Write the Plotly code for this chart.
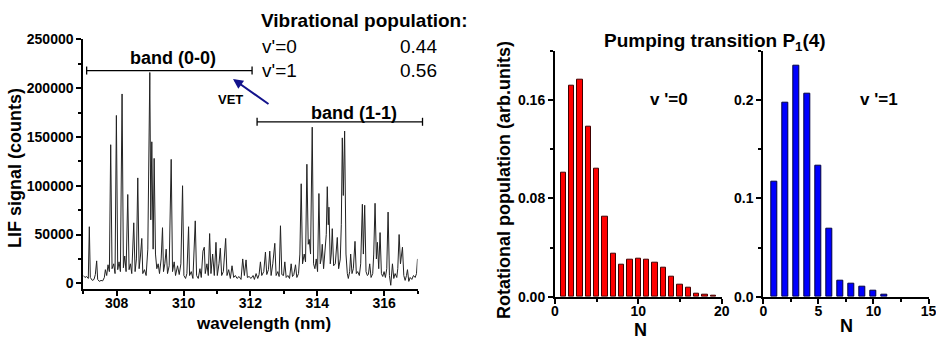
import plotly.graph_objects as go

# ---------------- data ----------------
wavelength = [
    307.00, 307.05, 307.10, 307.15, 307.18, 307.21, 307.27, 307.32, 307.36, 307.40,
    307.43, 307.48, 307.53, 307.58, 307.63, 307.66, 307.70, 307.74, 307.78, 307.82,
    307.86, 307.91, 307.95, 307.99, 308.03, 308.07, 308.11, 308.16, 308.20, 308.24,
    308.28, 308.33, 308.37, 308.41, 308.45, 308.51, 308.55, 308.59, 308.63, 308.67,
    308.71, 308.75, 308.78, 308.83, 308.88, 308.93, 308.99, 309.02, 309.05, 309.09,
    309.12, 309.16, 309.20, 309.24, 309.28, 309.33, 309.37, 309.40, 309.44, 309.48,
    309.52, 309.57, 309.63, 309.67, 309.72, 309.76, 309.82, 309.87, 309.92, 309.97,
    310.01, 310.06, 310.10, 310.15, 310.18, 310.23, 310.28, 310.35, 310.39, 310.44,
    310.49, 310.53, 310.58, 310.62, 310.65, 310.70, 310.74, 310.78, 310.82, 310.87,
    310.92, 310.97, 311.01, 311.06, 311.10, 311.14, 311.19, 311.26, 311.30, 311.35,
    311.40, 311.45, 311.50, 311.55, 311.60, 311.66, 311.72, 311.77, 311.82, 311.87,
    311.91, 311.96, 312.02, 312.08, 312.12, 312.17, 312.22, 312.26, 312.30, 312.34,
    312.40, 312.45, 312.49, 312.54, 312.58, 312.62, 312.67, 312.73, 312.77, 312.82,
    312.86, 312.90, 312.94, 312.99, 313.03, 313.07, 313.12, 313.17, 313.22, 313.26,
    313.30, 313.35, 313.39, 313.44, 313.48, 313.52, 313.56, 313.61, 313.65, 313.69,
    313.73, 313.76, 313.80, 313.85, 313.89, 313.93, 313.97, 314.01, 314.05, 314.09,
    314.12, 314.15, 314.19, 314.23, 314.27, 314.30, 314.33, 314.35, 314.39, 314.42,
    314.45, 314.49, 314.54, 314.60, 314.64, 314.69, 314.72, 314.75, 314.78, 314.82,
    314.86, 314.90, 314.93, 314.97, 315.00, 315.04, 315.08, 315.13, 315.17, 315.21,
    315.26, 315.30, 315.35, 315.38, 315.42, 315.46, 315.50, 315.53, 315.57, 315.61,
    315.66, 315.69, 315.73, 315.77, 315.80, 315.84, 315.88, 315.92, 315.96, 316.00,
    316.04, 316.08, 316.12, 316.16, 316.20, 316.25, 316.29, 316.33, 316.38, 316.41,
    316.45, 316.49, 316.52, 316.55, 316.59, 316.63, 316.67, 316.70, 316.74, 316.78,
    316.83, 316.88, 316.93, 316.97, 317.00,
]
lif_signal = [
    8000, 6000, 7000, 5000, 58000, 6000, 3000, 4000, 9000, 23000,
    4000, 2000, 3000, 2500, 6000, 14000, 8000, 19000, 12000, 142000,
    15000, 20000, 10000, 172000, 14000, 22000, 12000, 194000, 16000, 28000,
    12000, 91000, 14000, 20000, 10000, 62000, 12000, 25000, 108000, 15000,
    28000, 46000, 10000, 14000, 8000, 35000, 216000, 65000, 145000, 35000,
    128000, 30000, 15000, 20000, 10000, 25000, 57000, 12000, 20000, 35000,
    10000, 18000, 127000, 12000, 22000, 8000, 18000, 9000, 20000, 100000,
    8000, 5000, 10000, 58000, 8000, 12000, 5000, 64000, 8000, 5000,
    15000, 6000, 33000, 37000, 10000, 20000, 8000, 51000, 10000, 30000,
    8000, 42000, 8000, 20000, 36000, 8000, 12000, 46000, 8000, 14000,
    5000, 18000, 6000, 8000, 5000, 7000, 4000, 25000, 8000, 24000,
    6000, 7000, 5000, 8000, 4000, 10000, 5000, 9000, 22000, 8000,
    12000, 32000, 9000, 14000, 33000, 8000, 20000, 41000, 8000, 12000,
    7000, 59000, 9000, 8000, 22000, 6000, 8000, 5000, 20000, 7000,
    9000, 19000, 6000, 10000, 30000, 102000, 20000, 30000, 22000, 122000,
    40000, 45000, 30000, 160000, 20000, 15000, 25000, 12000, 92000, 20000,
    25000, 40000, 15000, 30000, 50000, 99000, 60000, 78000, 20000, 30000,
    56000, 18000, 20000, 47000, 15000, 25000, 60000, 149000, 90000, 156000,
    30000, 10000, 5000, 12000, 30000, 10000, 15000, 43000, 10000, 12000,
    8000, 20000, 81000, 30000, 80000, 12000, 8000, 9000, 20000, 6000,
    10000, 30000, 82000, 25000, 42000, 15000, 52000, 10000, 7000, 12000,
    6000, 15000, 73000, 8000, -2000, 20000, 5000, 10000, 6000, 15000,
    50000, 20000, 30000, 37000, 8000, 3000, 8000, 14000, 2000, 6000,
    4000, 8000, 6000, 10000, 25000,
]

band_00 = [307.10, 312.05, 218000]   # start, end, level
band_11 = [312.20, 317.15, 165500]

N_v0 = list(range(1, 20))
pop_v0 = [0.1012, 0.1717, 0.1768, 0.1383, 0.1044, 0.0648, 0.0353, 0.0263, 0.0298, 0.0312,
          0.0301, 0.0279, 0.0239, 0.0163, 0.0100, 0.0070, 0.0027, 0.0019, 0.0006]
N_v1 = list(range(1, 12))
pop_v1 = [0.117, 0.197, 0.235, 0.206, 0.133, 0.0688, 0.0159, 0.0129, 0.0098, 0.0058, 0.0017]

vib_labels = ["v'=0", "v'=1"]
vib_values = ["0.44", "0.56"]

# ---------------- layout helpers ----------------
W, H = 936, 339
FONT = "Liberation Sans, Arial, sans-serif"

def px(x):
    return x / W

def py(y):
    return 1 - y / H

L_XDOM = [px(83.3), px(417.5)]
L_YDOM = [py(289), py(39.3)]
L_XR = [307, 317]
L_YR = [-5800, 250000]
M_XDOM = [px(555), px(721.7)]
R_XDOM = [px(763.3), px(928.5)]
B_YDOM = [py(296.7), py(50.7)]

def lx(x):
    return L_XDOM[0] + (x - L_XR[0]) / (L_XR[1] - L_XR[0]) * (L_XDOM[1] - L_XDOM[0])

def ly(y):
    return L_YDOM[0] + (y - L_YR[0]) / (L_YR[1] - L_YR[0]) * (L_YDOM[1] - L_YDOM[0])

fig = go.Figure()

fig.add_trace(go.Scatter(x=wavelength, y=lif_signal, mode="lines",
                         line=dict(color="#222222", width=1),
                         xaxis="x", yaxis="y", showlegend=False))
fig.add_trace(go.Bar(x=N_v0, y=pop_v0, width=0.65,
                     marker=dict(color="#ff0000", line=dict(color="#400000", width=1)),
                     xaxis="x2", yaxis="y2", showlegend=False))
fig.add_trace(go.Bar(x=N_v1, y=pop_v1, width=0.6,
                     marker=dict(color="#0000ff", line=dict(color="#000040", width=1)),
                     xaxis="x3", yaxis="y3", showlegend=False))

tickfont = dict(family=FONT, size=14, color="black", weight="bold")

def axis(domain, rng, dtick, mdtick, anchor, fmt=None, tick0=None, standoff=0):
    d = dict(domain=domain, range=rng, anchor=anchor, dtick=dtick, automargin=False,
             showline=True, linewidth=2, linecolor="black",
             ticks="outside", ticklen=5, tickwidth=2, tickcolor="black",
             showgrid=False, zeroline=False, tickfont=tickfont,
             ticklabeloverflow="allow", ticklabelstandoff=standoff,
             minor=dict(dtick=mdtick, ticks="outside", ticklen=3, tickwidth=1.5,
                        tickcolor="black", showgrid=False))
    if fmt:
        d["tickformat"] = fmt
    if tick0 is not None:
        d["tick0"] = tick0
        d["minor"]["tick0"] = tick0
    return d

fig.update_layout(
    template="none",
    width=W, height=H,
    margin=dict(l=0, r=0, t=0, b=0, autoexpand=False),
    paper_bgcolor="white", plot_bgcolor="white",
    font=dict(family=FONT, color="black"),
    bargap=0,
    xaxis=axis(L_XDOM, L_XR, 2, 1, "y", tick0=308, standoff=-5),
    yaxis=axis(L_YDOM, L_YR, 50000, 25000, "x", fmt="d", tick0=0),
    xaxis2=axis(M_XDOM, [0, 20], 10, 5, "y2", tick0=0, standoff=-5),
    yaxis2=axis(B_YDOM, [0, 0.2], 0.08, 0.04, "x2", fmt=".2f", tick0=0),
    xaxis3=axis(R_XDOM, [0, 15], 5, 2.5, "y3", tick0=0, standoff=-5),
    yaxis3=axis(B_YDOM, [0, 0.25], 0.1, 0.05, "x3", fmt=".1f", tick0=0),
)

# band brackets
shapes = []
cap = 4 / H
for b in (band_00, band_11):
    x0, x1, yv = lx(b[0]), lx(b[1]), ly(b[2])
    shapes.append(dict(type="line", xref="paper", yref="paper", x0=x0, x1=x1, y0=yv, y1=yv,
                       line=dict(color="black", width=1.3)))
    for xx in (x0, x1):
        shapes.append(dict(type="line", xref="paper", yref="paper", x0=xx, x1=xx,
                           y0=yv - cap, y1=yv + cap, line=dict(color="black", width=1.3)))
fig.update_layout(shapes=shapes)

ann = []
def text(t, x, y, size, bold=True, xanchor="center", angle=0):
    ann.append(dict(text=t, x=px(x), y=py(y), xref="paper", yref="paper", showarrow=False,
                    xanchor=xanchor, yanchor="middle", textangle=angle,
                    font=dict(family=FONT, size=size, color="black",
                              weight="bold" if bold else "normal")))

text("Vibrational population:", 364.5, 21, 19)
for i, (lab, val) in enumerate(zip(vib_labels, vib_values)):
    text(lab, 260, 46 + 24 * i, 19, bold=False, xanchor="left")
    text(val, 418, 46 + 24 * i, 19, bold=False)
text("band (0-0)", 173, 58, 18)
text("band (1-1)", 354, 113, 18)
text("VET", 230, 100, 13)
text("LIF signal (counts)", 15, 168, 18, angle=-90)
text("wavelength (nm)", 263, 323, 17)
text("Pumping transition P<sub>1</sub>(4)", 715, 42, 19)
text("v '=0", 669, 100, 17)
text("v '=1", 879, 100, 17)
text("Rotational population (arb.units)", 504, 180, 18, angle=-90)
text("N", 640, 330, 18)
text("N", 846, 326, 18)

ann.append(dict(x=px(233), y=py(79), xref="paper", yref="paper", text="", showarrow=True,
                ax=37, ay=26, arrowcolor="#12128c", arrowwidth=2, arrowhead=2, arrowsize=1))
fig.update_layout(annotations=ann)

fig.write_html("out.html", config={"displayModeBar": False},
               post_script="document.body.style.margin='0';document.body.style.overflow='hidden';")
